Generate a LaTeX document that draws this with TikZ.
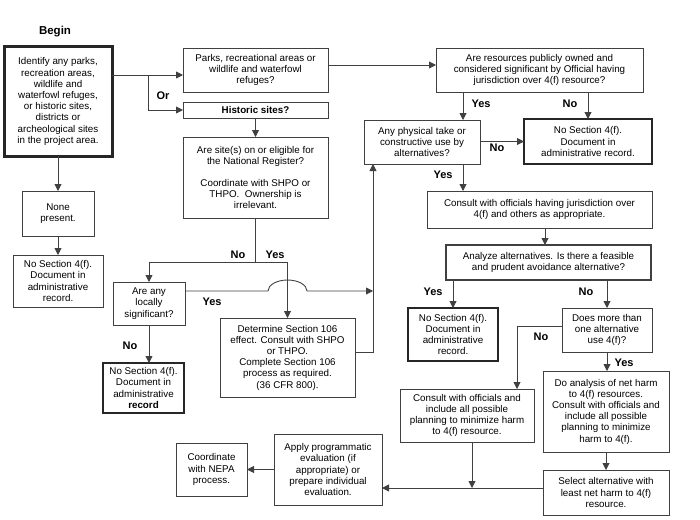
\documentclass[tikz,border=0pt]{standalone}
\usepackage{fontspec}
\setmainfont{Liberation Sans}
\usetikzlibrary{arrows.meta}
\begin{document}
\begin{tikzpicture}[x=1pt,y=-1pt,inner sep=0pt,outer sep=0pt,
flowbox/.style={draw=black!75,rectangle,align=center,line width=0.9pt,font=\fontsize{9.8}{11.2}\selectfont},
endbox/.style={flowbox,draw=black!85,line width=2pt},
startbox/.style={flowbox,draw=black!85,line width=3pt},
lbl/.style={font=\fontsize{11}{13}\selectfont\bfseries},
arr/.style={draw=black!75,line width=0.9pt,-{Triangle[length=7pt,width=7pt]}},
link/.style={draw=black!75,line width=0.9pt}]
\useasboundingbox (0,0) rectangle (700,519);

\draw (55,32) node[lbl,font=\fontsize{11.5}{13}\selectfont\bfseries] (title) {Begin};
\draw (58,101.5) node[startbox,minimum width=108pt,minimum height=109pt] (begin) {Identify any parks,\\ recreation areas,\\ wildlife and\\ waterfowl refuges,\\ or historic sites,\\ districts or\\ archeological sites\\ in the project area.};
\draw (255.5,70) node[flowbox,minimum width=145pt,minimum height=44pt] (parks) {Parks, recreational areas or\\ wildlife and waterfowl\\ refuges?};
\draw (255.5,110) node[flowbox,minimum width=145pt,minimum height=16pt] (hist) {\bfseries Historic sites?};
\draw (255.5,177.5) node[flowbox,minimum width=145pt,minimum height=81pt] (site) {Are site(s) on or eligible for\\ the National Register?\\[11pt] Coordinate with SHPO or\\ THPO.\ \ Ownership is\\ irrelevant.};
\draw (58,213.5) node[flowbox,minimum width=72pt,minimum height=45pt] (none) {None\\ present.};
\draw (58,281) node[flowbox,minimum width=90pt,minimum height=52pt] (nosec1) {No Section 4(f).\\ Document in\\ administrative\\ record.};
\draw (149,303.5) node[flowbox,minimum width=72pt,minimum height=43pt] (local) {Are any\\ locally\\ significant?};
\draw (143.5,388) node[endbox,minimum width=81pt,minimum height=50pt] (nosec2) {No Section 4(f).\\ Document in\\ administrative\\ \textbf{record}};
\draw (287.5,357.5) node[flowbox,minimum width=135pt,minimum height=79pt] (det) {Determine Section 106\\ effect. Consult with SHPO\\ or THPO.\\ Complete Section 106\\ process as required.\\ (36 CFR 800).};
\draw (211.5,469.5) node[flowbox,minimum width=71pt,minimum height=53pt] (nepa) {Coordinate\\ with NEPA\\ process.};
\draw (328,469.5) node[flowbox,minimum width=108pt,minimum height=71pt] (apply) {Apply programmatic\\ evaluation (if\\ appropriate) or\\ prepare individual\\ evaluation.};
\draw (539.5,70) node[flowbox,minimum width=207pt,minimum height=44pt] (pub) {Are resources publicly owned and\\ considered significant by Official having\\ jurisdiction over 4(f) resource?};
\draw (422,142) node[flowbox,minimum width=116pt,minimum height=44pt] (take) {Any physical take or\\ constructive use by\\ alternatives?};
\draw (588,141.5) node[endbox,minimum width=128pt,minimum height=45pt] (nosec3) {No Section 4(f).\\ Document in\\ administrative record.};
\draw (539.5,209.5) node[flowbox,minimum width=225pt,minimum height=37pt] (juris) {Consult with officials having jurisdiction over\\ 4(f) and others as appropriate.};
\draw (548.5,262.5) node[flowbox,line width=1.2pt,minimum width=205pt,minimum height=35pt] (analyze) {Analyze alternatives. Is there a feasible\\ and prudent avoidance alternative?};
\draw (453,334.5) node[endbox,minimum width=90pt,minimum height=53pt] (nosec4) {No Section 4(f).\\ Document in\\ administrative\\ record.};
\draw (607,330) node[flowbox,minimum width=90pt,minimum height=44pt] (more) {Does more than\\ one alternative\\ use 4(f)?};
\draw (606,411.5) node[flowbox,minimum width=126pt,minimum height=81pt] (harm) {Do analysis of net harm\\ to 4(f) resources.\\ Consult with officials and\\ include all possible\\ planning to minimize\\ harm to 4(f).};
\draw (467,415.5) node[flowbox,minimum width=134pt,minimum height=53pt] (minim) {Consult with officials and\\ include all possible\\ planning to minimize harm\\ to 4(f) resource.};
\draw (606,492.5) node[flowbox,minimum width=126pt,minimum height=45pt] (select) {Select alternative with\\ least net harm to 4(f)\\ resource.};

\coordinate (fork) at (148,75);
\coordinate (pk) at ([yshift=5pt]parks.east);
\coordinate (split) at ([yshift=-44pt]site.south);
\coordinate (back) at ([xshift=-49pt]take.south);
\coordinate (lo) at ([yshift=12.5pt]local.east);
\coordinate (cross) at (lo -| det.north);
\coordinate (ty) at ([xshift=41pt]take.north);
\coordinate (ja) at ([xshift=5.5pt]juris.south);
\coordinate (sj) at ([yshift=4.5pt]select.west);
\coordinate (mj) at ([xshift=5pt]minim.south);

\draw[arr] (begin.east |- fork) -- (fork -| parks.west);
\draw[arr] (fork) |- (hist);
\draw[arr] (begin) -- (none);
\draw[arr] (none) -- (nosec1);
\draw[arr] (pk) -- (pk -| pub.west);
\draw[arr] (hist) -- (site);
\draw[link] (site.south) -- (split);
\draw[arr] (split) -| (local.north);
\draw[arr] (split) -| (det.north);
\draw[arr] (lo) -- ([xshift=-19.5pt]cross) arc[start angle=180,end angle=0,x radius=19.5pt,y radius=11pt] -- (lo -| back);
\draw[arr] (local.south) -- (local.south |- nosec2.north);
\draw[arr] ([yshift=5.5pt]det.east) -| (back);
\draw[arr] (ty |- pub.south) -- (ty);
\draw[arr] (nosec3.north |- pub.south) -- (nosec3.north);
\draw[arr] (take.east |- nosec3.west) -- (nosec3.west);
\draw[arr] (ty |- take.south) -- (ty |- juris.north);
\draw[arr] (ja) -- (ja |- analyze.north);
\draw[arr] (nosec4.north |- analyze.south) -- (nosec4.north);
\draw[arr] (more.north |- analyze.south) -- (more.north);
\draw[arr] ([yshift=4pt]more.west) -| ([xshift=50pt]minim.north);
\draw[arr] (more.south) -- (more.south |- harm.north);
\draw[arr] (harm) -- (select);
\draw[arr] (sj) -- (sj -| apply.east);
\draw[arr] (mj) -- (mj |- sj);
\draw[arr] (apply) -- (nepa);

\draw (163,96) node[lbl] (orlbl) {Or};
\draw (238,255) node[lbl] (nolbl1) {No};
\draw (275,255) node[lbl] (yeslbl1) {Yes};
\draw (212,302) node[lbl] (yeslbl2) {Yes};
\draw (130,346) node[lbl] (nolbl2) {No};
\draw (481,104) node[lbl] (yeslbl3) {Yes};
\draw (570,104) node[lbl] (nolbl3) {No};
\draw (497,148) node[lbl] (nolbl4) {No};
\draw (443,175) node[lbl] (yeslbl4) {Yes};
\draw (433,292) node[lbl] (yeslbl5) {Yes};
\draw (586,292) node[lbl] (nolbl5) {No};
\draw (541,337) node[lbl] (nolbl6) {No};
\draw (624,363) node[lbl] (yeslbl6) {Yes};
\end{tikzpicture}
\end{document}
